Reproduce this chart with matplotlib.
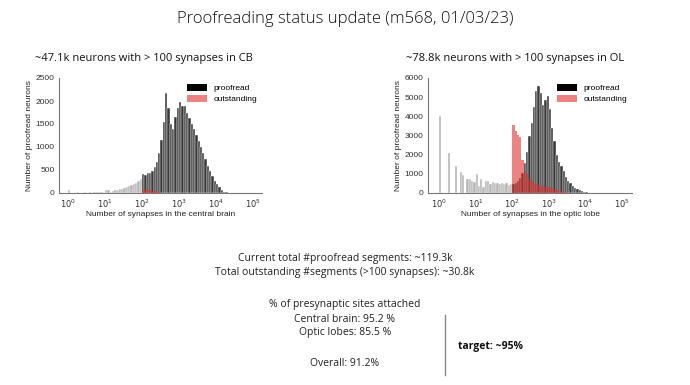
import matplotlib.pyplot as plt
import numpy as np
from matplotlib.patches import Patch

# log-spaced histogram bins, 16 per decade starting at 1 synapse
binsPerDecade = 16
binEdges = 10 ** (np.arange(0, 6 * binsPerDecade + 1) / binsPerDecade)

# central brain (gray starts at bin 0, the others at bin 32 = 10^2 synapses)
cbGray = [65, 0, 0, 0, 20, 0, 0, 25, 0, 25, 0, 20, 20, 15, 15, 10,
          60, 60, 30, 40, 70, 75, 80, 85, 110, 120, 150, 170, 190, 220, 260, 310]
cbProofread = [420, 400, 440, 430, 470, 560, 680, 860, 1150, 1550, 2180, 1850, 1500, 1400,
               1650, 1850, 1980, 1890, 1900, 1740, 1640, 1500, 1400, 1270, 1130, 990, 870,
               740, 590, 480, 370, 270, 190, 120, 60, 30, 15, 8, 4, 2]
cbOutstanding = [60, 65, 60, 55, 50, 40, 30, 20, 10]

# optic lobe
olGray = [4020, 0, 0, 0, 2080, 0, 0, 1420, 0, 1080, 920, 0, 710, 710, 640, 575,
          970, 370, 750, 330, 600, 640, 480, 560, 500, 540, 470, 500, 460, 520, 430, 480]
olProofread = [450, 520, 640, 800, 1050, 1550, 2150, 2950, 3650, 4500, 5300, 5600, 5200,
               4600, 4850, 5050, 4400, 3400, 2700, 2000, 1600, 1400, 1150, 850, 650, 500,
               380, 280, 200, 150, 100, 60, 30, 15, 5]
olOutstanding = [3550, 3250, 3050, 2900, 1700, 1100, 1000, 750, 600, 500, 450, 420, 380,
                 350, 330, 320, 300, 280, 230, 170, 120, 80, 50, 30, 15]

grayColor = "#b4b4b4"
blackColor = "#3a3a3a"
redColor = "#e03030"
tickFont = "Liberation Sans"
slideFont = "Open Sans"


def drawBars(ax, counts, startBin, color, alpha=1.0, edge="white"):
    left = binEdges[startBin:startBin + len(counts)]
    right = binEdges[startBin + 1:startBin + len(counts) + 1]
    ax.bar(left, counts, width=right - left, align="edge", color=color, alpha=alpha,
           edgecolor=edge, linewidth=0.3 if edge else 0)


def drawPanel(ax, gray, proofread, outstanding, ymax, xlim, xlabel, yticks):
    drawBars(ax, gray, 0, grayColor)
    drawBars(ax, proofread, 32, blackColor)
    drawBars(ax, outstanding, 32, redColor, alpha=0.6, edge=None)
    ax.set_xscale("log")
    ax.set_xlim(*xlim)
    ax.set_ylim(0, ymax)
    ax.set_xticks([1, 10, 100, 1000, 10000, 100000])
    ax.set_xticklabels([r"$10^{%d}$" % i for i in range(6)])
    ax.minorticks_off()
    ax.set_yticks(yticks)
    for s in ["top", "right"]:
        ax.spines[s].set_visible(False)
    for s in ["left", "bottom"]:
        ax.spines[s].set_color("#777777")
        ax.spines[s].set_linewidth(0.8)
    ax.tick_params(length=0, labelsize=6, labelcolor="#333333", pad=3)
    for lab in ax.get_yticklabels():
        lab.set_family(tickFont)
    ax.set_xlabel(xlabel, fontsize=6, family=tickFont, color="#222222", labelpad=1)
    ax.set_ylabel("Number of proofread neurons", fontsize=6, family=tickFont,
                  color="#222222", labelpad=2)
    handles = [Patch(facecolor="black"), Patch(facecolor=redColor, alpha=0.6)]
    ax.legend(handles, ["proofread", "outstanding"], loc="upper right", frameon=False,
              prop={"family": tickFont, "size": 6}, handlelength=2.4, handleheight=0.9,
              borderaxespad=0.2, labelspacing=0.3, bbox_to_anchor=(1.0, 0.99))


fig = plt.figure(figsize=(6.9, 3.85), dpi=100)

axCB = fig.add_axes([59 / 690, 1 - 193 / 385, 203 / 690, 115 / 385])
drawPanel(axCB, cbGray, cbProofread, cbOutstanding, 2500, (10 ** -0.24, 10 ** 5.24),
          "Number of synapses in the central brain", [0, 500, 1000, 1500, 2000, 2500])

axOL = fig.add_axes([428 / 690, 1 - 193 / 385, 204 / 690, 115 / 385])
drawPanel(axOL, olGray, olProofread, olOutstanding, 6000, (10 ** -0.3, 10 ** 5.27),
          "Number of synapses in the optic lobe", [0, 1000, 2000, 3000, 4000, 5000, 6000])

fig.text(0.5, 1 - 19 / 385, "Proofreading status update (m568, 01/03/23)", ha="center",
         va="center", fontsize=12, family=slideFont, weight="light", color="#111111")
fig.text(144 / 690, 1 - 58 / 385, "~47.1k neurons with > 100 synapses in CB", ha="center",
         va="center", fontsize=8, family=slideFont, weight="medium", color="#111111")
fig.text(515 / 690, 1 - 58 / 385, "~78.8k neurons with > 100 synapses in OL", ha="center",
         va="center", fontsize=8, family=slideFont, weight="medium", color="#111111")

summaryLines = [
    (258, "Current total #proofread segments: ~119.3k"),
    (272, "Total outstanding #segments (>100 synapses): ~30.8k"),
    (305, "% of presynaptic sites attached"),
    (319, "Central brain: 95.2 %"),
    (333, "Optic lobes: 85.5 %"),
    (364, "Overall: 91.2%"),
]
for y, txt in summaryLines:
    fig.text(345 / 690, 1 - y / 385, txt, ha="center", va="center", fontsize=7.5,
             family=slideFont, color="#222222")

fig.add_artist(plt.Line2D([445 / 690, 445 / 690], [1 - 315 / 385, 1 - 375 / 385],
                          color="#888888", linewidth=1))
fig.text(491 / 690, 1 - 346 / 385, "target: ~95%", ha="center", va="center", fontsize=7.5,
         family=slideFont, weight="bold", color="#111111")

fig.savefig("out.png", dpi=100, facecolor="white")
